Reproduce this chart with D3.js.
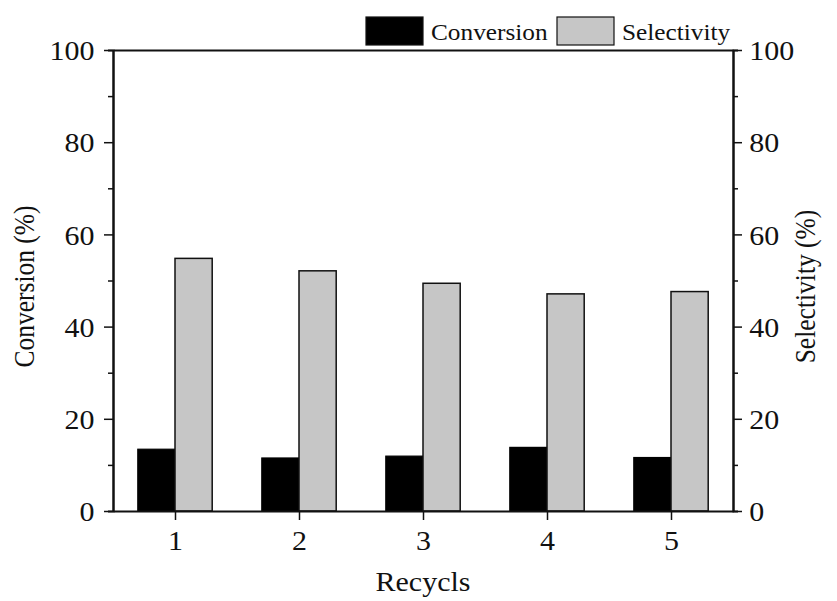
<!DOCTYPE html>
<html>
<head>
<meta charset="utf-8">
<script src="https://cdn.jsdelivr.net/npm/d3@7"></script>
<style>
  body { margin: 0; background: #fff; }
  text { font-family: "Liberation Serif", "Times New Roman", serif; fill: #111; }
</style>
</head>
<body>
<div id="chart"></div>
<script>
// data
const recycles = [1, 2, 3, 4, 5];
const conversion = [13.4, 11.5, 11.9, 13.8, 11.6];
const selectivity = [54.8, 52.1, 49.4, 47.1, 47.6];
const yTicks = [0, 20, 40, 60, 80, 100];
const yMinorTicks = [10, 30, 50, 70, 90];

var width = 837, height = 601;
var margin = {top: 50, right: 104, bottom: 90, left: 113};
var innerW = width - margin.left - margin.right,
    innerH = height - margin.top - margin.bottom;

// the original picture is a bit wider than tall, stretch text the same way
var stretch = "scale(1.09,1)";

var svg = d3.select("#chart")
    .append("svg")
    .attr("width", width)
    .attr("height", height)
    .append("g")
    .attr("transform", "translate(" + margin.left + "," + margin.top + ")");

var x = d3.scaleLinear().domain([0.5, 5.5]).range([0, innerW]);
var yL = d3.scaleLinear().domain([0, 100]).range([innerH, 0]);
var yR = d3.scaleLinear().domain([0, 100]).range([innerH, 0]);

var barW = x(0.3) - x(0);

// bars
svg.selectAll(".conv")
    .data(recycles)
    .enter()
    .append("rect")
    .attr("class", "conv")
    .attr("x", function(d) { return x(d) - barW; })
    .attr("y", function(d, i) { return yL(conversion[i]); })
    .attr("width", barW)
    .attr("height", function(d, i) { return innerH - yL(conversion[i]); })
    .attr("fill", "#000")
    .attr("stroke", "#000")
    .attr("stroke-width", 1.2);

svg.selectAll(".sel")
    .data(recycles)
    .enter()
    .append("rect")
    .attr("class", "sel")
    .attr("x", function(d) { return x(d); })
    .attr("y", function(d, i) { return yR(selectivity[i]); })
    .attr("width", barW)
    .attr("height", function(d, i) { return innerH - yR(selectivity[i]); })
    .attr("fill", "#c6c6c6")
    .attr("stroke", "#111")
    .attr("stroke-width", 1.5);

function styleAxis(g) {
    g.selectAll("path").attr("stroke", "#111").attr("stroke-width", 2);
    g.selectAll("line").attr("stroke", "#111").attr("stroke-width", 1.5);
    g.selectAll("text")
        .style("font-family", '"Liberation Serif", "Times New Roman", serif')
        .style("font-size", "27.5px")
        .attr("fill", "#111")
        .attr("transform", stretch);
}

// left axis
svg.append("g")
    .call(d3.axisLeft(yL).tickValues(yMinorTicks).tickSize(5).tickFormat(""))
    .call(styleAxis);
svg.append("g")
    .call(d3.axisLeft(yL).tickValues(yTicks).tickSize(9).tickPadding(8).tickSizeOuter(0))
    .call(styleAxis)
    .selectAll("text").attr("dy", "0.35em");

// right axis
svg.append("g")
    .attr("transform", "translate(" + innerW + ",0)")
    .call(d3.axisRight(yR).tickValues(yMinorTicks).tickSize(5).tickFormat(""))
    .call(styleAxis);
svg.append("g")
    .attr("transform", "translate(" + innerW + ",0)")
    .call(d3.axisRight(yR).tickValues(yTicks).tickSize(9).tickPadding(6).tickSizeOuter(0))
    .call(styleAxis)
    .selectAll("text").attr("dy", "0.35em");

// bottom axis
svg.append("g")
    .attr("transform", "translate(0," + innerH + ")")
    .call(d3.axisBottom(x).tickValues(recycles).tickSize(9).tickPadding(10).tickSizeOuter(0).tickFormat(d3.format("d")))
    .call(styleAxis);

// top frame line
svg.append("g")
    .call(d3.axisTop(x).tickValues([]).tickSizeOuter(0))
    .call(styleAxis);

// axis titles
svg.append("text")
    .attr("transform", "translate(" + (innerW / 2) + "," + (innerH + 80) + ")" + stretch)
    .attr("text-anchor", "middle")
    .style("font-size", "27.5px")
    .text("Recycls");

svg.append("text")
    .attr("transform", "translate(" + (-margin.left + 34) + "," + (innerH / 2 + 6) + ")scale(1.15,1)rotate(-90)")
    .attr("text-anchor", "middle")
    .style("font-size", "25.5px")
    .text("Conversion (%)");

svg.append("text")
    .attr("transform", "translate(" + (innerW + 82) + "," + (innerH / 2 + 6) + ")scale(1.15,1)rotate(-90)")
    .attr("text-anchor", "middle")
    .style("font-size", "25.5px")
    .text("Selectivity (%)");

// legend
var legendItems = [
    {label: "Conversion", fill: "#000", x: 253},
    {label: "Selectivity", fill: "#c6c6c6", x: 444}
];
var legend = svg.selectAll(".legend")
    .data(legendItems)
    .enter()
    .append("g")
    .attr("class", "legend")
    .attr("transform", function(d) { return "translate(" + d.x + "," + (-33) + ")"; });
legend.append("rect")
    .attr("width", 57)
    .attr("height", 28)
    .attr("fill", function(d) { return d.fill; })
    .attr("stroke", "#111")
    .attr("stroke-width", 1.2);
legend.append("text")
    .attr("transform", "translate(65,23)scale(1.1,1)")
    .style("font-size", "23px")
    .text(function(d) { return d.label; });
</script>
</body>
</html>
